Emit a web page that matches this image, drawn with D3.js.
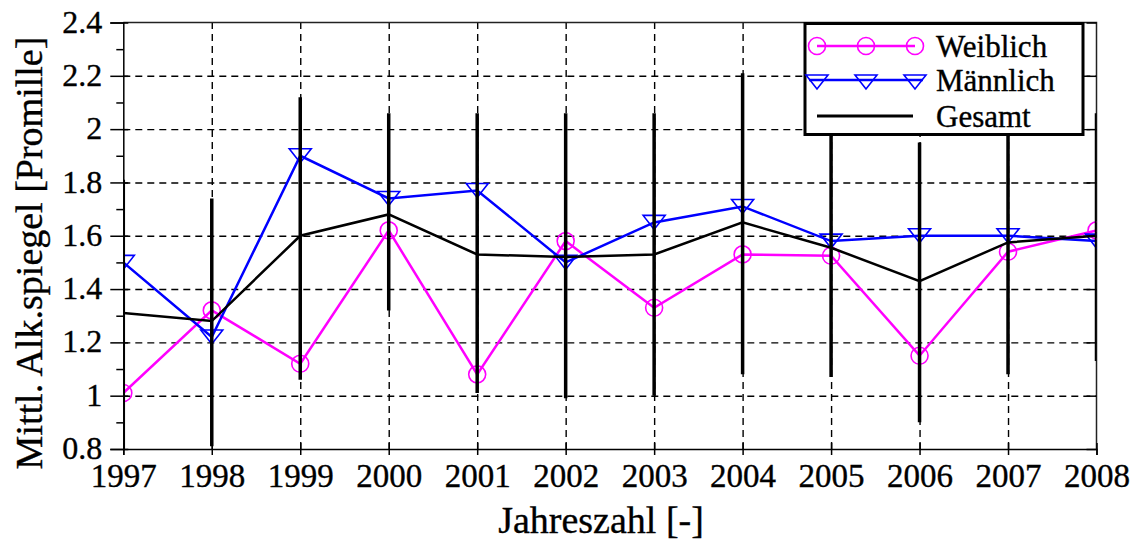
<!DOCTYPE html>
<html lang="de">
<head>
<meta charset="UTF-8">
<title>Mittl. Alk.spiegel</title>
<script src="https://d3js.org/d3.v7.min.js"></script>
<style>
    body { margin: 0; background: #fff; }
    svg { display: block; }
    svg text { font-family: "Liberation Serif", "Times New Roman", serif; fill: #000; stroke: #000; stroke-width: 0.35; }
    .grid line { stroke: #000; stroke-width: 1.4; stroke-dasharray: 7 5; }
    .grid path { display: none; }
    .axis path, .axis line { stroke: #000; stroke-width: 1.5; }
</style>
</head>
<body>
<svg width="1136" height="542"></svg>
<script>
    // data
    const years = [1997, 1998, 1999, 2000, 2001, 2002, 2003, 2004, 2005, 2006, 2007, 2008];
    const weiblich = [1.01, 1.32, 1.12, 1.62, 1.08, 1.58, 1.33, 1.53, 1.525, 1.15, 1.54, 1.62];
    const maennlich = [1.50, 1.22, 1.90, 1.74, 1.77, 1.50, 1.65, 1.71, 1.58, 1.60, 1.60, 1.58];
    const gesamt = [1.31, 1.28, 1.60, 1.68, 1.53, 1.52, 1.53, 1.65, 1.555, 1.43, 1.575, 1.60];
    const errLow = [0.80, 0.81, 1.06, 1.32, 1.01, 0.99, 1.00, 1.08, 1.07, 0.90, 1.08, 1.13];
    const errHigh = [1.81, 1.74, 2.12, 2.06, 2.06, 2.06, 2.06, 2.21, 2.04, 1.95, 2.07, 2.06];
    const yTicks = [0.8, 1, 1.2, 1.4, 1.6, 1.8, 2, 2.2, 2.4];
    const yMinor = [0.9, 1.1, 1.3, 1.5, 1.7, 1.9, 2.1, 2.3];
    const legendItems = ["Weiblich", "Männlich", "Gesamt"];

    const svg = d3.select("svg");
    const pLeft = 123.3, pRight = 1096.5, pTop = 22.5, pBottom = 449;

    const x = d3.scaleLinear().domain([1997, 2008]).range([pLeft, pRight]);
    const y = d3.scaleLinear().domain([0.8, 2.4]).range([pBottom, pTop]);

    svg.append("defs").append("clipPath").attr("id", "plot")
        .append("rect")
        .attr("x", pLeft).attr("y", pTop)
        .attr("width", pRight - pLeft).attr("height", pBottom - pTop);

    // dashed grid
    svg.append("g").attr("class", "grid")
        .attr("transform", `translate(0,${pBottom})`)
        .call(d3.axisBottom(x).tickValues(years.slice(1, -1)).tickSize(-(pBottom - pTop)).tickFormat(""));
    svg.append("g").attr("class", "grid")
        .attr("transform", `translate(${pLeft},0)`)
        .call(d3.axisLeft(y).tickValues(yTicks.slice(1, -1)).tickSize(-(pRight - pLeft)).tickFormat(""));

    // frame (top + right)
    svg.append("path")
        .attr("d", `M${pLeft},${pTop}H${pRight}V${pBottom}`)
        .attr("fill", "none").attr("stroke", "#222").attr("stroke-width", 1.5);

    // right side inner ticks
    svg.append("g").attr("class", "axis")
        .attr("transform", `translate(${pRight},0)`)
        .call(d3.axisLeft(y).tickValues(yTicks).tickSize(10).tickFormat(""))
        .select(".domain").remove();

    const plot = svg.append("g").attr("clip-path", "url(#plot)");

    const line = d3.line().x((d, i) => x(years[i])).y(d => y(d));

    // Weiblich
    plot.append("path").datum(weiblich)
        .attr("d", line).attr("fill", "none")
        .attr("stroke", "#ff00ff").attr("stroke-width", 2.5);
    plot.selectAll(".wdot").data(weiblich).enter().append("circle")
        .attr("cx", (d, i) => x(years[i])).attr("cy", d => y(d)).attr("r", 8.5)
        .attr("fill", "none").attr("stroke", "#ff00ff").attr("stroke-width", 1.6);

    // Männlich
    const tri = "M-11,-7L11,-7L0,7Z";
    plot.append("path").datum(maennlich)
        .attr("d", line).attr("fill", "none")
        .attr("stroke", "#0000ff").attr("stroke-width", 2.5);
    plot.selectAll(".mdot").data(maennlich).enter().append("path")
        .attr("d", tri)
        .attr("transform", (d, i) => `translate(${x(years[i])},${y(d)})`)
        .attr("fill", "none").attr("stroke", "#0000ff").attr("stroke-width", 1.6);

    // Gesamt
    plot.append("path").datum(gesamt)
        .attr("d", line).attr("fill", "none")
        .attr("stroke", "#000").attr("stroke-width", 2.5);

    // error bars
    plot.selectAll(".err").data(years).enter().append("line")
        .attr("x1", d => x(d)).attr("x2", d => x(d))
        .attr("y1", (d, i) => y(errLow[i])).attr("y2", (d, i) => y(errHigh[i]))
        .attr("stroke", "#000").attr("stroke-width", 3.5);

    // axes
    const xAxis = svg.append("g").attr("class", "axis")
        .attr("transform", `translate(0,${pBottom})`)
        .call(d3.axisBottom(x).tickValues(years).tickSizeOuter(0).tickSize(6).tickFormat(d3.format("d")));
    xAxis.selectAll(".tick line").attr("y1", -6);
    xAxis.selectAll("text").attr("y", 38).attr("dy", 0).attr("font-size", 33);

    const yAxis = svg.append("g").attr("class", "axis")
        .attr("transform", `translate(${pLeft},0)`)
        .call(d3.axisLeft(y).tickValues(yTicks).tickSizeOuter(0).tickSize(13).tickPadding(8)
            .tickFormat(d => String(+d.toFixed(1))));
    yAxis.selectAll(".tick line").attr("x2", 5).attr("x1", -13);
    yAxis.selectAll("text").attr("dy", "0.3em").attr("font-size", 32);
    svg.append("g").attr("class", "axis")
        .attr("transform", `translate(${pLeft},0)`)
        .call(d3.axisLeft(y).tickValues(yMinor).tickSize(7).tickFormat(""))
        .select(".domain").remove();

    // titles
    svg.append("text")
        .attr("x", 601).attr("y", 533)
        .attr("text-anchor", "middle").attr("font-size", 38)
        .text("Jahreszahl [-]");
    svg.append("text")
        .attr("transform", "translate(42,253) rotate(-90)")
        .attr("text-anchor", "middle").attr("font-size", 38)
        .text("Mittl. Alk.spiegel [Promille]");

    // legend
    const lg = svg.append("g");
    lg.append("rect")
        .attr("x", 805).attr("y", 23.5).attr("width", 278).attr("height", 111)
        .attr("fill", "#fff").attr("stroke", "#000").attr("stroke-width", 3);
    const lx = [817, 866, 915];
    const rowY = [46, 80, 116];
    lg.append("line").attr("x1", lx[0]).attr("x2", lx[2]).attr("y1", rowY[0]).attr("y2", rowY[0])
        .attr("stroke", "#ff00ff").attr("stroke-width", 2.5);
    lg.selectAll(".lc").data(lx).enter().append("circle")
        .attr("cx", d => d).attr("cy", rowY[0]).attr("r", 8.5)
        .attr("fill", "none").attr("stroke", "#ff00ff").attr("stroke-width", 1.6);
    lg.append("line").attr("x1", lx[0] - 8).attr("x2", lx[2] + 8).attr("y1", rowY[1]).attr("y2", rowY[1])
        .attr("stroke", "#0000ff").attr("stroke-width", 2.5);
    lg.selectAll(".lt").data(lx).enter().append("path")
        .attr("d", tri).attr("transform", d => `translate(${d},${rowY[1] + 2})`)
        .attr("fill", "none").attr("stroke", "#0000ff").attr("stroke-width", 1.6);
    lg.append("line").attr("x1", lx[0]).attr("x2", 913).attr("y1", rowY[2]).attr("y2", rowY[2])
        .attr("stroke", "#000").attr("stroke-width", 3);
    lg.selectAll(".ltxt").data(legendItems).enter().append("text")
        .attr("x", 936).attr("y", (d, i) => rowY[i] + 11)
        .attr("font-size", 31).text(d => d);
</script>
</body>
</html>
